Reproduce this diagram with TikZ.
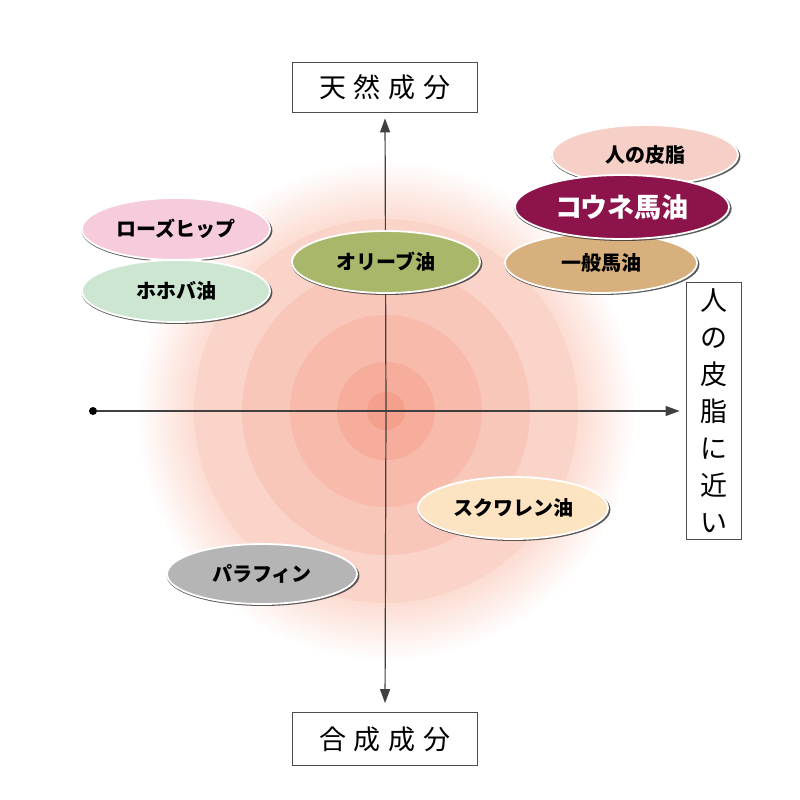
\documentclass[tikz,border=0pt]{standalone}
\usepackage{fontspec}
\newfontfamily\jp{Noto Sans CJK JP}
\usetikzlibrary{arrows.meta,shadows,shapes.geometric}
\definecolor{ringa}{HTML}{F4A08D}
\definecolor{ringb}{HTML}{F6AD9B}
\definecolor{ringc}{HTML}{F8BAAA}
\definecolor{ringd}{HTML}{F9C7BA}
\definecolor{ringe}{HTML}{FBD4C9}
\definecolor{ringf}{HTML}{FCDDD3}
\definecolor{skin}{HTML}{F6D0C7}
\definecolor{koune}{HTML}{8C144B}
\definecolor{horse}{HTML}{D8B07E}
\definecolor{rose}{HTML}{F6CCDD}
\definecolor{jojoba}{HTML}{CDE6D2}
\definecolor{olive}{HTML}{A8B76A}
\definecolor{squalene}{HTML}{FCE4C2}
\definecolor{paraffin}{HTML}{B5B5B5}
\begin{document}
\begin{tikzpicture}[x=1pt,y=-1pt,
    oil/.style={ellipse,draw=white,line width=1.8pt,minimum width=188pt,minimum height=62pt,inner sep=0pt,
        font=\jp\bfseries\fontsize{20}{20}\selectfont,
        drop shadow={shadow xshift=1pt,shadow yshift=-1.5pt,shadow scale=1.015,opacity=.8,fill=black!80}},
    axlabel/.style={draw=black!70,line width=.8pt,fill=white,inner sep=0pt,font=\jp\fontsize{27}{37}\selectfont},
    axline/.style={draw=black!75,line width=1.2pt},
    axis/.style={axline,-{Triangle[length=14pt,width=10pt]}}]
    \useasboundingbox (0,0) rectangle (800,800);
    \fill[white] (0,0) rectangle (800,800);
    \coordinate (o) at (386,411);
    \foreach \i [evaluate=\i as \r using 252-4*\i, evaluate=\i as \p using 7*\i] in {0,...,14}
        \fill[ringf!\p!white] (o) circle (\r);
    \foreach \r/\c in {192/ringe,144/ringd,96/ringc,49/ringb,19/ringa}
        \fill[\c] (o) circle (\r);
    \node[axlabel,minimum width=185pt,minimum height=50pt] (nat) at (385,87) {天\hspace{8pt}然\hspace{8pt}成\hspace{8pt}分};
    \node[axlabel,minimum width=185pt,minimum height=53pt] (syn) at (385,739) {合\hspace{8pt}成\hspace{8pt}成\hspace{8pt}分};
    \node[axlabel,minimum width=55pt,minimum height=257pt,align=center] (near) at (713.5,411) {人\\の\\皮\\脂\\に\\近\\い};
    \node[circle,fill=black,inner sep=0pt,minimum size=8pt] (dot) at (93,411) {};
    \draw[axline] (dot) -- (o);
    \draw[axis,shorten >=6pt] (o) -- (near.west);
    \draw[axis,shorten >=6pt] (o) -- (nat.south);
    \draw[axis,shorten >=9pt] (o) -- (syn.north);
    \node[oil,fill=skin,minimum width=186pt,minimum height=60pt] (sk) at (645,155) {人の皮脂};
    \node[oil,fill=horse,minimum width=192pt,minimum height=60pt] (hs) at (601,263) {一般馬油};
    \node[oil,fill=koune,text=white,minimum width=214pt,minimum height=64pt,font=\jp\bfseries\fontsize{27}{27}\selectfont] (ko) at (622,207) {コウネ馬油};
    \node[oil,fill=rose] (rh) at (176,229) {ローズヒップ};
    \node[oil,fill=jojoba] (jj) at (176,291) {ホホバ油};
    \node[oil,fill=olive] (ol) at (386,262) {オリーブ油};
    \node[oil,fill=squalene,minimum width=190pt] (sq) at (513,508) {スクワレン油};
    \node[oil,fill=paraffin,minimum width=190pt,minimum height=60pt] (pf) at (262,574) {パラフィン};
\end{tikzpicture}
\end{document}
